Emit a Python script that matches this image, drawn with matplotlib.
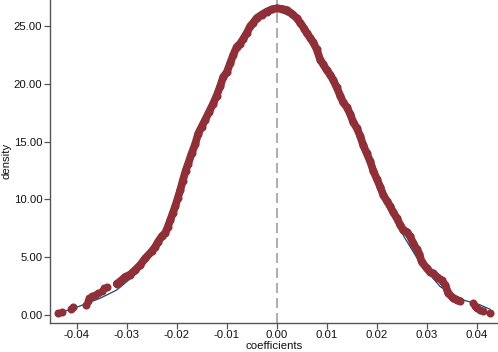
import matplotlib
matplotlib.use('Agg')
import matplotlib.pyplot as plt

# red kernel density points (contiguous band)
band_x = [-0.0320, -0.0313, -0.0303, -0.0293, -0.0283, -0.0273, -0.0263, -0.0250, -0.0243,
          -0.0237, -0.0230, -0.0223, -0.0218, -0.0213, -0.0208, -0.0203, -0.0198, -0.0193,
          -0.0188, -0.0182, -0.0177, -0.0170, -0.0163, -0.0157, -0.0150, -0.0143, -0.0135,
          -0.0127, -0.0120, -0.0113, -0.0107, -0.0100, -0.0093, -0.0087, -0.0080, -0.0073,
          -0.0067, -0.0060, -0.0053, -0.0047, -0.0040, -0.0030, -0.0020, -0.0010, 0.0000,
          0.0010, 0.0020, 0.0030, 0.0040, 0.0047, 0.0055, 0.0060, 0.0067, 0.0073, 0.0080,
          0.0087, 0.0093, 0.0100, 0.0107, 0.0113, 0.0120, 0.0127, 0.0133, 0.0140, 0.0147,
          0.0153, 0.0160, 0.0167, 0.0173, 0.0180, 0.0187, 0.0193, 0.0200, 0.0207, 0.0213,
          0.0220, 0.0227, 0.0233, 0.0240, 0.0247, 0.0253, 0.0260, 0.0267, 0.0273, 0.0280,
          0.0285, 0.0290, 0.0300, 0.0307, 0.0313, 0.0320, 0.0330, 0.0337, 0.0343, 0.0353,
          0.0360, 0.0367]
band_y = [2.7, 2.9, 3.3, 3.5, 3.9, 4.33, 4.9, 5.5, 5.9,
          6.35, 6.8, 7.1, 7.6, 8.2, 8.8, 9.4, 10.1, 10.8,
          11.6, 12.5, 13.1, 14.0, 14.8, 15.7, 16.3, 16.9, 17.6,
          18.3, 19.0, 19.8, 20.6, 21.0, 21.8, 22.5, 23.2, 23.5,
          23.9, 24.4, 25.0, 25.3, 25.7, 26.0, 26.26, 26.45, 26.55,
          26.5, 26.4, 26.1, 25.7, 25.3, 24.8, 24.4, 24.0, 23.6, 23.0,
          22.1, 21.7, 21.2, 20.8, 20.35, 19.7, 19.0, 18.4, 18.0, 17.4,
          16.7, 16.2, 15.5, 14.7, 14.0, 13.3, 12.5, 11.8, 11.1, 10.4,
          9.9, 9.4, 8.9, 8.4, 7.8, 7.36, 7.2, 6.8, 6.2, 5.7,
          5.3, 4.6, 4.05, 3.7, 3.6, 3.3, 3.0, 2.6, 1.9, 1.45,
          1.3, 1.2]

# isolated points in the tails
tail_x = [-0.0437, -0.0430, -0.0412, -0.0407, -0.0382, -0.0378, -0.0375, -0.0370, -0.0363,
          -0.0357, -0.0350, -0.0345, -0.0340,
          0.0393, 0.0397, 0.0400, 0.0407, 0.0413, 0.0427]
tail_y = [0.15, 0.3, 0.55, 0.68, 0.9, 1.2, 1.45, 1.6, 1.75,
          1.9, 2.1, 2.3, 2.45,
          1.0, 0.8, 0.62, 0.45, 0.35, 0.15]

# blue reference density
norm_x = [-0.0440, -0.0400, -0.0353, -0.0320, -0.0280, -0.0253, -0.0227, -0.0200, -0.0160,
          -0.0120, -0.0080, -0.0040, 0.0000, 0.0040, 0.0080, 0.0120, 0.0160, 0.0200,
          0.0220, 0.0253, 0.0287, 0.0327, 0.0373, 0.0407, 0.0427]
norm_y = [0.09, 0.67, 1.45, 2.16, 3.6, 5.05, 6.78, 9.9, 14.8,
          19.0, 23.1, 25.6, 26.4, 25.6, 23.0, 19.5, 16.0, 11.8,
          9.67, 6.9, 4.48, 2.45, 1.3, 0.87, 0.49]

xticks = [-0.04, -0.03, -0.02, -0.01, 0.00, 0.01, 0.02, 0.03, 0.04]
yticks = [0, 5, 10, 15, 20, 25]

red = '#8f2f38'
blue = '#1a476f'

plt.rcParams['font.family'] = ['Liberation Sans', 'DejaVu Sans']

fig = plt.figure(figsize=(4.98, 3.52), dpi=100)
ax = fig.add_axes([0.1004, 0.0832, 0.8996, 0.9168])

ax.axvline(0, color='#a0a0a0', lw=1.2, dashes=(6, 3), zorder=1)
ax.plot(norm_x, norm_y, color=blue, lw=0.9, zorder=2)
ax.plot(band_x, band_y, color=red, lw=5.6, solid_capstyle='round',
        solid_joinstyle='round', zorder=3)
ax.plot(band_x, band_y, 'o', color=red, markersize=5.8, markeredgewidth=0, zorder=3)
ax.plot(tail_x, tail_y, 'o', color=red, markersize=5.8, markeredgewidth=0, zorder=3)

ax.set_xlim(-0.04534, 0.04426)
ax.set_ylim(-0.67, 27.27)
ax.set_xticks(xticks)
ax.set_xticklabels(['%.2f' % v for v in xticks])
ax.set_yticks(yticks)
ax.set_yticklabels(['%.2f' % v for v in yticks])

for s in ['top', 'right']:
    ax.spines[s].set_visible(False)
for s in ['left', 'bottom']:
    ax.spines[s].set_color('#555555')
    ax.spines[s].set_linewidth(1.0)
ax.tick_params(length=4, width=0.9, color='#555555', labelsize=8.2, pad=1.5, labelcolor='#111111')

ax.set_xlabel('coefficients', fontsize=8.2, labelpad=0.5, color='#111111')
ax.set_ylabel('density', fontsize=8.2, labelpad=1.5, color='#111111')

plt.savefig('out.png', dpi=100)
